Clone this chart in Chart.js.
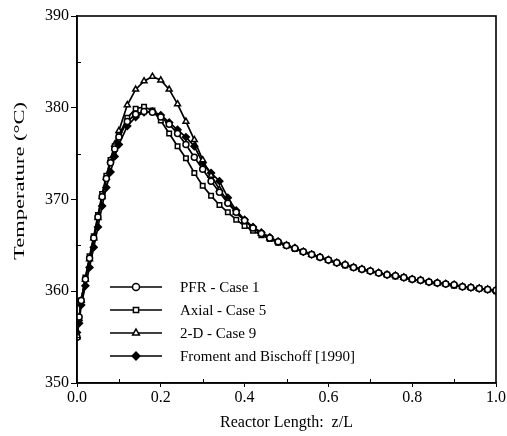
<!DOCTYPE html>
<html><head><meta charset="utf-8">
<script src="https://cdn.jsdelivr.net/npm/chart.js@4.4.0/dist/chart.umd.min.js"></script>
<style>html,body{margin:0;padding:0;background:#fff;}#wrap{width:507px;height:436px;position:relative;}</style>
</head><body><div id="wrap"><canvas id="c" width="507" height="436"></canvas></div>
<script>
const FONT = "'Liberation Serif','Times New Roman',serif";
const seriesNames = ['PFR - Case 1', 'Axial - Case 5', '2-D - Case 9', 'Froment and Bischoff [1990]'];
const xTitle = 'Reactor Length:  z/L';
const yTitle = 'Temperature (\u00B0C)';
const xTickValues = [0.0, 0.2, 0.4, 0.6, 0.8, 1.0];
const yTickValues = [350, 360, 370, 380, 390];

const zGrid = [0, 0.005, 0.01, 0.02, 0.03, 0.04, 0.05, 0.06, 0.07, 0.08, 0.09, 0.10,
  0.12, 0.14, 0.16, 0.18, 0.20, 0.22, 0.24, 0.26, 0.28, 0.30,
  0.32, 0.34, 0.36, 0.38, 0.40, 0.42, 0.44, 0.46, 0.48, 0.50,
  0.52, 0.54, 0.56, 0.58, 0.60, 0.62, 0.64, 0.66, 0.68, 0.70,
  0.72, 0.74, 0.76, 0.78, 0.80, 0.82, 0.84, 0.86, 0.88, 0.90,
  0.92, 0.94, 0.96, 0.98, 1.00];

const tPFR = [355.0, 357.2, 359.0, 361.3, 363.6, 365.8, 368.1, 370.3, 372.3, 374.0, 375.5, 376.8,
  378.5, 379.3, 379.6, 379.5, 379.0, 378.2, 377.2, 376.0, 374.6, 373.3,
  372.0, 370.8, 369.6, 368.6, 367.7, 366.9, 366.3, 365.8, 365.4, 365.0,
  364.7, 364.3, 364.0, 363.7, 363.4, 363.1, 362.9, 362.6, 362.4, 362.2,
  362.0, 361.8, 361.7, 361.5, 361.3, 361.2, 361.0, 360.9, 360.8, 360.7,
  360.5, 360.4, 360.3, 360.2, 360.1];

const tAxial = [355.2, 357.0, 359.0, 361.5, 363.8, 366.0, 368.3, 370.6, 372.6, 374.3, 375.8, 377.0,
  378.9, 379.9, 380.1, 379.7, 378.6, 377.2, 375.8, 374.5, 372.9, 371.5,
  370.4, 369.4, 368.6, 367.8, 367.1, 366.6, 366.1, 365.7, 365.3, 365.0,
  364.6, 364.3, 364.0, 363.7, 363.4, 363.1, 362.8, 362.6, 362.4, 362.2,
  362.0, 361.8, 361.6, 361.5, 361.3, 361.2, 361.0, 360.9, 360.8, 360.6,
  360.5, 360.4, 360.3, 360.2, 360.0];

const t2D = [355.0, 357.0, 359.0, 361.3, 363.5, 365.8, 368.0, 370.3, 372.4, 374.3, 376.0, 377.5,
  380.3, 382.0, 382.9, 383.4, 383.0, 382.0, 380.4, 378.5, 376.5, 374.3,
  372.6, 371.1, 369.8, 368.6, 367.7, 366.9, 366.3, 365.8, 365.4, 365.0,
  364.7, 364.3, 364.0, 363.7, 363.4, 363.1, 362.9, 362.6, 362.4, 362.2,
  362.0, 361.8, 361.7, 361.5, 361.3, 361.2, 361.0, 360.9, 360.8, 360.7,
  360.5, 360.4, 360.3, 360.2, 360.1];

const tFroment = [355.5, 356.5, 358.5, 360.6, 362.6, 364.8, 367.0, 369.3, 371.3, 373.0, 374.7, 376.0,
  378.0, 379.0, 379.5, 379.6, 379.2, 378.4, 377.6, 376.8, 375.8, 374.0,
  372.9, 372.0, 370.2, 368.8, 367.8, 367.0, 366.4, 365.9, 365.4, 365.0,
  364.7, 364.3, 364.0, 363.7, 363.4, 363.1, 362.9, 362.6, 362.4, 362.2,
  362.0, 361.8, 361.7, 361.5, 361.3, 361.2, 361.0, 360.9, 360.8, 360.7,
  360.5, 360.4, 360.3, 360.2, 360.0];

const toPts = t => zGrid.map((z, i) => ({x: z, y: t[i]}));

function ds(label, t, style, fill, r) {
  return {
    label, data: toPts(t), showLine: true,
    borderColor: '#000', borderWidth: 1.7,
    pointStyle: style, pointRadius: r, pointBorderWidth: 1.5,
    pointBackgroundColor: fill, pointBorderColor: '#000',
    tension: 0
  };
}

const decor = {
  id: 'decor',
  afterDraw(chart) {
    const ctx = chart.ctx, a = chart.chartArea;
    const xs = chart.scales.x, ys = chart.scales.y;
    ctx.save();
    ctx.strokeStyle = '#000';
    ctx.lineWidth = 1.6;
    ctx.strokeRect(a.left, a.top, a.right - a.left, a.bottom - a.top);
    ctx.lineWidth = 1;
    ctx.beginPath();
    for (let v = 0.1; v < 1; v += 0.2) {
      const px = Math.round(xs.getPixelForValue(v)) + 0.5;
      ctx.moveTo(px, a.bottom); ctx.lineTo(px, a.bottom - 4);
    }
    for (let v = 355; v < 390; v += 10) {
      const py = Math.round(ys.getPixelForValue(v)) + 0.5;
      ctx.moveTo(a.left, py); ctx.lineTo(a.left + 4, py);
    }
    ctx.stroke();
    ctx.fillStyle = '#000';
    ctx.font = '15px ' + FONT;
    ctx.textAlign = 'center';
    ctx.textBaseline = 'middle';
    const w = ctx.measureText(yTitle).width;
    ctx.save();
    ctx.translate(20, 181);
    ctx.rotate(-Math.PI / 2);
    ctx.scale(Math.min(1.6, 158 / w), 1);
    ctx.fillText(yTitle, 0, 0);
    ctx.restore();
    ctx.font = '15px ' + FONT;
    ctx.textAlign = 'left';
    chart.data.datasets.forEach((d, i) => {
      const y = a.bottom - 96 + i * 23;
      const x0 = a.left + 33, x1 = a.left + 85, xm = (x0 + x1) / 2;
      ctx.strokeStyle = '#000';
      ctx.lineWidth = 1.7;
      ctx.beginPath(); ctx.moveTo(x0, y); ctx.lineTo(x1, y); ctx.stroke();
      ctx.fillStyle = d.pointBackgroundColor;
      ctx.lineWidth = 1.5;
      Chart.helpers.drawPoint(ctx, {pointStyle: d.pointStyle, radius: d.pointRadius + 0.5, borderWidth: 1.5, rotation: 0}, xm, y);
      ctx.fillStyle = '#000';
      ctx.fillText(d.label, a.left + 103, y + 1);
    });
    ctx.restore();
  }
};

new Chart(document.getElementById('c'), {
  type: 'scatter',
  data: {
    datasets: [
      ds(seriesNames[0], tPFR, 'circle', '#fff', 3),
      ds(seriesNames[1], tAxial, 'rect', '#fff', 3.2),
      ds(seriesNames[2], t2D, 'triangle', '#fff', 3.4),
      ds(seriesNames[3], tFroment, 'rectRot', '#000', 3.4)
    ]
  },
  options: {
    responsive: false, animation: false, devicePixelRatio: 1,
    layout: {padding: {left: 0, right: 10, top: 16, bottom: 0}},
    plugins: {legend: {display: false}, tooltip: {enabled: false}},
    scales: {
      x: {
        type: 'linear', min: 0, max: 1,
        afterFit: s => { s.height = 53; },
        afterBuildTicks: s => { s.ticks = xTickValues.map(v => ({value: v})); },
        ticks: {color: '#000', font: {family: FONT, size: 16}, padding: 1, callback: v => Number(v).toFixed(1), maxRotation: 0},
        grid: {drawOnChartArea: false, color: '#000', tickLength: 4, lineWidth: 1},
        border: {color: '#000', width: 1.6},
        title: {display: true, text: xTitle, color: '#000', font: {family: FONT, size: 16}, padding: {top: 2}}
      },
      y: {
        type: 'linear', min: 350, max: 390,
        afterFit: s => { s.width = 77; },
        afterBuildTicks: s => { s.ticks = yTickValues.map(v => ({value: v})); },
        ticks: {color: '#000', font: {family: FONT, size: 16}, padding: 2},
        grid: {drawOnChartArea: false, color: '#000', tickLength: 6, lineWidth: 1},
        border: {color: '#000', width: 1.6}
      }
    }
  },
  plugins: [decor]
});
</script></body></html>
